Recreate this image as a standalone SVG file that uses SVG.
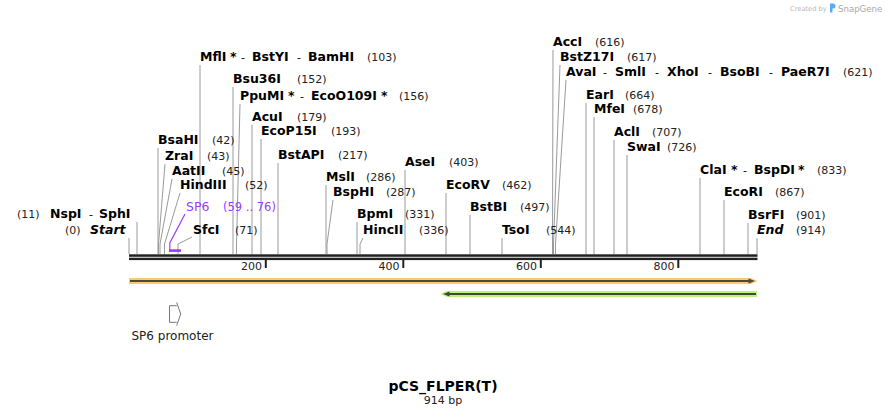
<svg xmlns="http://www.w3.org/2000/svg" width="887" height="417" viewBox="0 0 887 417">
<style>
text{font-family:"DejaVu Sans","Verdana",sans-serif}
.n{font-size:12.5px;font-weight:bold;fill:#000}
.i{font-size:12.5px;font-weight:bold;font-style:italic;fill:#000}
.p{font-size:11px;fill:#222}
.d{font-size:11px;fill:#000}
.t{font-size:11px;fill:#222}
.c{fill:none;stroke:#9a9a9a;stroke-width:1}
.sp{fill:#9b3bff}
</style>
<rect width="887" height="417" fill="#fff"/>
<g id="watermark">
<text x="790" y="11" style="font-size:6.7px;fill:#b8b8b8">Created by</text>
<path d="M830,3.5 h3 a2.5,2.5 0 0 1 0,5 h-0.5 v4 h-2.5 z" fill="#5aaef0"/>
<text x="838" y="11.5" style="font-size:8.6px;fill:#a8a8a8">SnapGene</text>
</g>
<g id="connectors">
<polyline class="c" points="129,238 129,254"/>
<polyline class="c" points="137,222 137,254"/>
<polyline class="c" points="158,148 158,254"/>
<polyline class="c" points="165,164 158.5,244 158.5,254"/>
<polyline class="c" points="172,179 160,244 160,254"/>
<polyline class="c" points="180,193 164.5,244 164.5,254"/>
<polyline class="c" points="192,237 178,244 178,254"/>
<polyline class="c" points="200,65 200,254"/>
<polyline class="c" points="233,87 233,254"/>
<polyline class="c" points="240,104 236.5,244 236.5,254"/>
<polyline class="c" points="252,125 252,254"/>
<polyline class="c" points="261,139 261,254"/>
<polyline class="c" points="278,163 278,254"/>
<polyline class="c" points="326,185 326,254"/>
<polyline class="c" points="333,200 327,244 327,254"/>
<polyline class="c" points="357,222 357,254"/>
<polyline class="c" points="363,238 360,244 360,254"/>
<polyline class="c" points="405,170 405,254"/>
<polyline class="c" points="446,193 446,254"/>
<polyline class="c" points="470,215 470,254"/>
<polyline class="c" points="502,238 502,254"/>
<polyline class="c" points="553,50 552.5,244 552.5,254"/>
<polyline class="c" points="560,65 553.5,244 553.5,254"/>
<polyline class="c" points="566,80 555.5,244 555.5,254"/>
<polyline class="c" points="586,103 586,254"/>
<polyline class="c" points="594,117 594,254"/>
<polyline class="c" points="614,140 614,254"/>
<polyline class="c" points="627,155 627,254"/>
<polyline class="c" points="700,178 700,254"/>
<polyline class="c" points="724,200 724,254"/>
<polyline class="c" points="748,223 748,254"/>
<polyline class="c" points="757,238 757,254"/>
<polyline fill="none" stroke="#9b3bff" stroke-width="1.2" points="185,214 169.8,243 169.8,250"/>
<rect x="169" y="249.3" width="12" height="2.6" fill="#9b3bff"/>
</g>
<g id="backbone">
<rect x="129" y="254.3" width="628.5" height="2.5" fill="#222"/>
<rect x="129" y="257.7" width="628.5" height="2.4" fill="#222"/>
<g fill="#222">
<rect x="264.8" y="260" width="2" height="8"/>
<rect x="402.3" y="260" width="2" height="8"/>
<rect x="539.8" y="260" width="2" height="8"/>
<rect x="677.3" y="260" width="2" height="8"/>
</g>
<text class="t" x="262" y="270" text-anchor="end">200</text>
<text class="t" x="399.5" y="270" text-anchor="end">400</text>
<text class="t" x="537" y="270" text-anchor="end">600</text>
<text class="t" x="674.5" y="270" text-anchor="end">800</text>
</g>
<g id="feature-orange">
<polygon points="129,278 751,278 757.5,281 751,284 129,284" fill="#f9c87c"/>
<line x1="130" y1="281" x2="751" y2="281" stroke="#4d4838" stroke-width="2"/>
<polygon points="748.5,278.4 755,281 748.5,283.6" fill="#4d4838"/>
</g>
<g id="feature-green">
<polygon points="447,291 757,291 757,297 447,297 440.5,294" fill="#b8f282"/>
<line x1="447" y1="294" x2="756" y2="294" stroke="#3f4a35" stroke-width="2"/>
<polygon points="449.5,291.4 443,294 449.5,296.6" fill="#3f4a35"/>
</g>
<g id="sp6-promoter">
<path d="M176.7,305.7 H169.5 V322.3 H176.7 M176.7,302.5 L180.7,314 L176.7,325.5" fill="none" stroke="#777" stroke-width="1"/>
<text x="131.5" y="340" style="font-size:12px;fill:#222">SP6 promoter</text>
</g>
<g id="site-MflI"><text class="n" x="200" y="61">MflI</text><text class="n" x="230" y="61">*</text><text class="d" x="241" y="61">-</text><text class="n" x="252" y="61">BstYI</text><text class="d" x="297" y="61">-</text><text class="n" x="308" y="61">BamHI</text><text class="p" x="367" y="61">(103)</text></g>
<g id="site-Bsu36I"><text class="n" x="233" y="83">Bsu36I</text><text class="p" x="297" y="83">(152)</text></g>
<g id="site-PpuMI"><text class="n" x="240" y="100">PpuMI</text><text class="n" x="288" y="100">*</text><text class="d" x="300" y="100">-</text><text class="n" x="311" y="100">EcoO109I</text><text class="n" x="381" y="100">*</text><text class="p" x="399" y="100">(156)</text></g>
<g id="site-AcuI"><text class="n" x="252" y="121">AcuI</text><text class="p" x="297" y="121">(179)</text></g>
<g id="site-EcoP15I"><text class="n" x="261" y="135">EcoP15I</text><text class="p" x="331" y="135">(193)</text></g>
<g id="site-BstAPI"><text class="n" x="278" y="159">BstAPI</text><text class="p" x="338" y="159">(217)</text></g>
<g id="site-BsaHI"><text class="n" x="158" y="144">BsaHI</text><text class="p" x="212" y="144">(42)</text></g>
<g id="site-ZraI"><text class="n" x="165" y="160">ZraI</text><text class="p" x="207" y="160">(43)</text></g>
<g id="site-AatII"><text class="n" x="172" y="175">AatII</text><text class="p" x="222" y="175">(45)</text></g>
<g id="site-HindIII"><text class="n" x="180" y="189">HindIII</text><text class="p" x="245" y="189">(52)</text></g>
<g id="site-SP6"><text class="sp" x="186" y="211" style="font-size:12.5px">SP6</text><text class="sp" x="223" y="211" style="font-size:11.5px">(59 .. 76)</text></g>
<g id="site-SfcI"><text class="n" x="193" y="234">SfcI</text><text class="p" x="235" y="234">(71)</text></g>
<g id="site-NspI"><text class="p" x="17" y="218">(11)</text><text class="n" x="50" y="218">NspI</text><text class="d" x="89" y="218">-</text><text class="n" x="99" y="218">SphI</text></g>
<g id="site-Start"><text class="p" x="65" y="234">(0)</text><text class="i" x="90" y="234">Start</text></g>
<g id="site-MslI"><text class="n" x="326" y="181">MslI</text><text class="p" x="366" y="181">(286)</text></g>
<g id="site-BspHI"><text class="n" x="333" y="196">BspHI</text><text class="p" x="386" y="196">(287)</text></g>
<g id="site-BpmI"><text class="n" x="357" y="218">BpmI</text><text class="p" x="405" y="218">(331)</text></g>
<g id="site-HincII"><text class="n" x="363" y="234">HincII</text><text class="p" x="419" y="234">(336)</text></g>
<g id="site-AseI"><text class="n" x="405" y="166">AseI</text><text class="p" x="449" y="166">(403)</text></g>
<g id="site-EcoRV"><text class="n" x="446" y="189">EcoRV</text><text class="p" x="502" y="189">(462)</text></g>
<g id="site-BstBI"><text class="n" x="470" y="211">BstBI</text><text class="p" x="520" y="211">(497)</text></g>
<g id="site-TsoI"><text class="n" x="502" y="234">TsoI</text><text class="p" x="546" y="234">(544)</text></g>
<g id="site-AccI"><text class="n" x="553" y="46">AccI</text><text class="p" x="595" y="46">(616)</text></g>
<g id="site-BstZ17I"><text class="n" x="560" y="61">BstZ17I</text><text class="p" x="627" y="61">(617)</text></g>
<g id="site-AvaI"><text class="n" x="566" y="76">AvaI</text><text class="d" x="603" y="76">-</text><text class="n" x="615" y="76">SmlI</text><text class="d" x="655" y="76">-</text><text class="n" x="667" y="76">XhoI</text><text class="d" x="708" y="76">-</text><text class="n" x="720" y="76">BsoBI</text><text class="d" x="769" y="76">-</text><text class="n" x="781" y="76">PaeR7I</text><text class="p" x="843" y="76">(621)</text></g>
<g id="site-EarI"><text class="n" x="586" y="99">EarI</text><text class="p" x="625" y="99">(664)</text></g>
<g id="site-MfeI"><text class="n" x="594" y="113">MfeI</text><text class="p" x="633" y="113">(678)</text></g>
<g id="site-AclI"><text class="n" x="614" y="136">AclI</text><text class="p" x="652" y="136">(707)</text></g>
<g id="site-SwaI"><text class="n" x="627" y="151">SwaI</text><text class="p" x="667" y="151">(726)</text></g>
<g id="site-ClaI"><text class="n" x="700" y="174">ClaI</text><text class="n" x="731" y="174">*</text><text class="d" x="743" y="174">-</text><text class="n" x="754" y="174">BspDI</text><text class="n" x="798" y="174">*</text><text class="p" x="817" y="174">(833)</text></g>
<g id="site-EcoRI"><text class="n" x="724" y="196">EcoRI</text><text class="p" x="775" y="196">(867)</text></g>
<g id="site-BsrFI"><text class="n" x="748" y="219">BsrFI</text><text class="p" x="796" y="219">(901)</text></g>
<g id="site-End"><text class="i" x="757" y="234">End</text><text class="p" x="796" y="234">(914)</text></g>
<g id="title">
<text x="443" y="391" text-anchor="middle" style="font-size:14px;font-weight:bold;fill:#000">pCS_FLPER(T)</text>
<text x="443" y="404" text-anchor="middle" style="font-size:11px;fill:#222">914 bp</text>
</g>
</svg>
